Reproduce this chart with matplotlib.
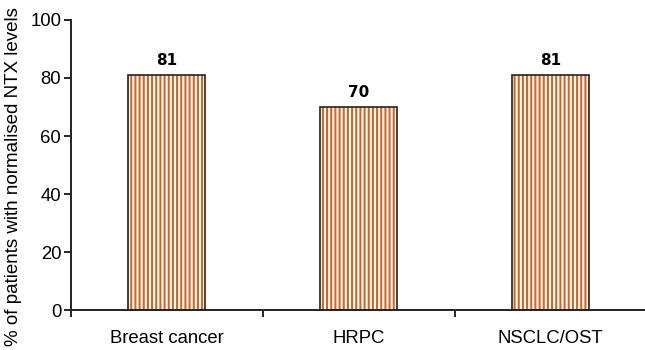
import matplotlib
matplotlib.use("Agg")
from matplotlib import pyplot as plt

categories = ["Breast cancer", "HRPC", "NSCLC/OST"]
values = [81, 70, 81]

plt.rcParams['font.family'] = ['Liberation Sans', 'DejaVu Sans']
plt.rcParams['hatch.linewidth'] = 1.5
plt.rcParams['hatch.color'] = '#D2651F'

fig = plt.figure(figsize=(6.45, 3.5), dpi=100)
ax = fig.add_axes([0.110, 0.114, 0.892, 0.829])

x = range(len(categories))
# stripes first, then the black outline on top
ax.bar(x, values, width=0.4, color='white', edgecolor='#D2651F', hatch='||||', linewidth=0)
ax.bar(x, values, width=0.4, fill=False, edgecolor='#222222', linewidth=1.2)

for i, v in zip(x, values):
    ax.text(i, v + 2.5, str(v), ha='center', va='bottom', fontsize=11,
            fontweight='bold', family='DejaVu Sans')

ax.set_xlim(-0.5, 2.5)
ax.set_ylim(0, 100)
ax.set_yticks([0, 20, 40, 60, 80, 100])
ax.set_xticks([-0.5, 0.5, 1.5, 2.5])
ax.set_xticklabels([])
ax.set_xticks([0, 1, 2], categories, minor=True)
ax.tick_params(axis='x', which='minor', length=0, pad=14, labelsize=13.3)
ax.tick_params(axis='x', which='major', length=5, width=1.2, direction='out')
ax.tick_params(axis='y', length=5, width=1.2, direction='out', labelsize=13.3, pad=2)

ax.spines['top'].set_visible(False)
ax.spines['right'].set_visible(False)
ax.spines['left'].set_linewidth(1.4)
ax.spines['bottom'].set_linewidth(1.4)
ax.spines['left'].set_color('#222222')
ax.spines['bottom'].set_color('#222222')

ax.set_ylabel("% of patients with normalised NTX levels", fontsize=13.5)
ax.yaxis.set_label_coords(-0.085, 0.46)

fig.savefig("out.png", dpi=100)
